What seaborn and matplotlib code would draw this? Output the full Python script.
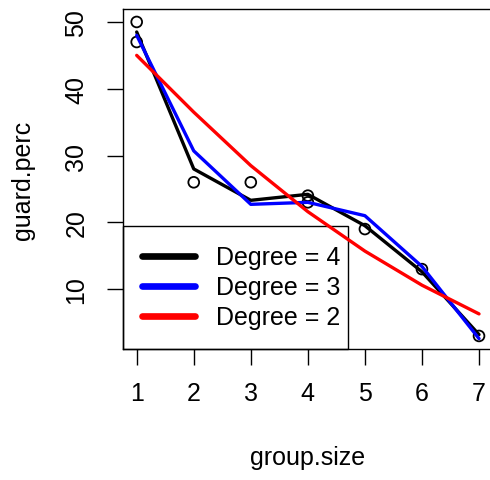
import matplotlib
matplotlib.use("Agg")
import matplotlib.pyplot as plt
import seaborn as sns
import pandas as pd

# Observations
group_size = [1, 1, 2, 3, 4, 4, 5, 6, 7]
guard_perc = [50, 47, 26, 26, 24, 23, 19, 13, 3]

# Fitted values of the polynomial models at each group size
fit_x = [1, 2, 3, 4, 5, 6, 7]
fit_deg4 = [48.5, 28.0, 23.3, 24.2, 19.5, 12.6, 3.2]
fit_deg3 = [48.0, 30.7, 22.7, 23.0, 21.0, 13.4, 2.6]
fit_deg2 = [45.0, 36.5, 28.5, 21.6, 15.7, 10.6, 6.3]

legend_labels = ["Degree = 4", "Degree = 3", "Degree = 2"]
line_colors = ["black", "blue", "red"]

sns.set_style("ticks")
plt.rcParams["font.family"] = ["Liberation Sans", "DejaVu Sans"]
plt.rcParams["text.color"] = "black"
plt.rcParams["axes.labelcolor"] = "black"
plt.rcParams["xtick.color"] = "black"
plt.rcParams["ytick.color"] = "black"

W, H = 490, 481
fig = plt.figure(figsize=(W / 100, H / 100), dpi=100)
# plot box runs slightly past the right edge of the canvas
left, right, top, bottom = 123, 492.7, 10.4, 349.5
ax = fig.add_axes([left / W, 1 - bottom / H, (right - left) / W, (bottom - top) / H])

obs = pd.DataFrame({"group.size": group_size, "guard.perc": guard_perc})
sns.scatterplot(data=obs, x="group.size", y="guard.perc", ax=ax,
                marker="o", s=60, facecolor="none", edgecolor="black",
                linewidth=1.3, zorder=2)

fits = pd.DataFrame({
    "group.size": fit_x * 3,
    "guard.perc": fit_deg4 + fit_deg3 + fit_deg2,
    "model": [legend_labels[0]] * 7 + [legend_labels[1]] * 7 + [legend_labels[2]] * 7,
})
sns.lineplot(data=fits, x="group.size", y="guard.perc", hue="model",
             palette=dict(zip(legend_labels, line_colors)),
             estimator=None, sort=True, linewidth=2.4, ax=ax, zorder=3,
             legend=False)

ax.set_xlim(0.76, 7.24)
ax.set_ylim(1.12, 51.88)
ax.set_xticks(range(1, 8))
ax.set_yticks([10, 20, 30, 40, 50])

fs = 18
ax.tick_params(axis="both", direction="out", length=11.5, width=1.0,
               color="black", labelsize=fs, labelcolor="black")
ax.tick_params(axis="x", pad=12)
ax.tick_params(axis="y", pad=13.5, labelrotation=90)
for lab in ax.get_yticklabels():
    lab.set_va("center")

for sp in ax.spines.values():
    sp.set_visible(True)
    sp.set_color("black")
    sp.set_linewidth(1.0)
ax.spines["right"].set_visible(False)

ax.set_xlabel("")
ax.set_ylabel("")
fig.text(((left + right) / 2) / W, 1 - 458 / H, "group.size",
         ha="center", va="center", fontsize=fs)
fig.text(23 / W, 1 - ((top + bottom) / 2) / H, "guard.perc", rotation=90,
         ha="center", va="center", fontsize=fs)

handles = [plt.Line2D([], [], color=c, linewidth=4.8, solid_capstyle="round")
           for c in line_colors]
leg_w = 225 / (right - left)
leg = ax.legend(handles, legend_labels, loc="lower left",
                bbox_to_anchor=(0, 0, leg_w, 0.3), mode="expand",
                borderaxespad=0, fontsize=fs,
                frameon=True, fancybox=False, edgecolor="black",
                framealpha=1, handlelength=2.1, handletextpad=0.85,
                borderpad=0.77, labelspacing=0.24)
leg.get_frame().set_linewidth(1.0)
leg.set_zorder(1)

fig.savefig("out.png", dpi=100)
